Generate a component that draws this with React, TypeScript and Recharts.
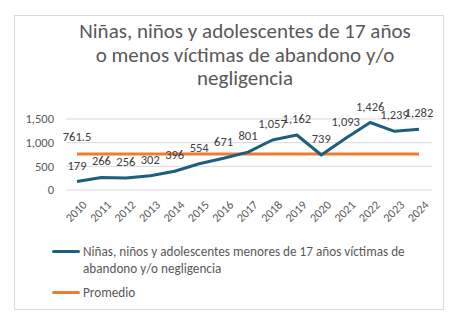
import { CartesianGrid, Line, LineChart, XAxis, YAxis } from 'recharts';

const years = ['2010', '2011', '2012', '2013', '2014', '2015', '2016', '2017', '2018', '2019', '2020', '2021', '2022', '2023', '2024'];
const victims = [179, 266, 256, 302, 396, 554, 671, 801, 1057, 1162, 739, 1093, 1426, 1239, 1282];
const average = [761.5, 761.5, 761.5, 761.5, 761.5, 761.5, 761.5, 761.5, 761.5, 761.5, 761.5, 761.5, 761.5, 761.5, 761.5];
const yTicks = [0, 500, 1000, 1500];

const seriesName = 'Niñas, niños y adolescentes menores de 17 años víctimas de abandono y/o negligencia';
const avgName = 'Promedio';

const data = years.map((year, i) => ({ year, victims: victims[i], average: average[i] }));

const FONT = 'Calibri, Carlito, "Noto Sans", sans-serif';
const BLUE = '#1F5F7E';
const ORANGE = '#ED7D31';

const fmt = (v: number) => (Number.isInteger(v) ? v.toLocaleString('en-US') : v.toString());

function YearTick({ x, y, payload }: any) {
  return (
    <g transform={`translate(${x + 5},${y + 2})`}>
      <text x={0} y={0} dy={8} textAnchor="end" transform="rotate(-45)" fill="#595959" fontSize={12} fontFamily={FONT}>
        {payload.value}
      </text>
    </g>
  );
}

function ValueLabel({ x, y, value }: any) {
  return (
    <text x={x} y={y - 12} textAnchor="middle" fill="#404040" fontSize={12.5} fontFamily={FONT}>
      {fmt(value)}
    </text>
  );
}

function AvgLabel({ x, y, value, index }: any) {
  if (index !== 0) return null;
  return (
    <text x={x} y={y - 13} textAnchor="middle" fill="#404040" fontSize={12.5} fontFamily={FONT}>
      {fmt(value)}
    </text>
  );
}

function LegendBox() {
  const row = { display: 'flex', alignItems: 'flex-start', fontSize: 13.2, color: '#595959', fontFamily: FONT, lineHeight: '17px' } as const;
  const swatch = (c: string) => ({ width: 28, height: 3, background: c, marginTop: 7, marginRight: 3, flex: 'none', borderRadius: 2 });
  return (
    <div style={{ position: 'absolute', left: 52, top: 243, width: 372 }}>
      <div style={row}>
        <div style={swatch(BLUE)} />
        <div>{seriesName}</div>
      </div>
      <div style={{ ...row, marginTop: 7 }}>
        <div style={swatch(ORANGE)} />
        <div>{avgName}</div>
      </div>
    </div>
  );
}

export default function App() {
  return (
    <div style={{ position: 'absolute', left: 0, top: 0, width: 460, height: 325, background: '#fff' }}>
      <div
        style={{
          position: 'absolute',
          left: 14,
          top: 15,
          width: 430,
          height: 295,
          border: '1px solid #D9D9D9',
          boxSizing: 'border-box',
        }}
      />
      <div
        style={{
          position: 'absolute',
          left: 45,
          top: 20,
          width: 400,
          textAlign: 'center',
          fontFamily: FONT,
          fontSize: 21,
          lineHeight: '23.5px',
          color: '#595959',
        }}
      >
        Niñas, niños y adolescentes de 17 años
        <br />o menos víctimas de abandono y/o
        <br />negligencia
      </div>
      <LineChart width={460} height={325} data={data} margin={{ top: 119, right: 28, bottom: 95, left: 16 }} style={{ position: 'absolute', left: 0, top: 0 }}>
        <CartesianGrid vertical={false} stroke="#D9D9D9" />
        <XAxis
          dataKey="year"
          axisLine={false}
          tickLine={false}
          interval={0}
          tick={<YearTick />}
          height={40}
          padding={{ left: 11, right: 13 }}
        />
        <YAxis
          domain={[0, 1500]}
          ticks={yTicks}
          axisLine={false}
          tickLine={false}
          width={50}
          tickFormatter={(v: number) => v.toLocaleString('en-US')}
          tick={{ fill: '#595959', fontSize: 12.5, fontFamily: FONT, dx: -4 }}
        />
        <Line
          dataKey="average"
          name={avgName}
          stroke={ORANGE}
          strokeWidth={3}
          dot={false}
          label={<AvgLabel />}
          isAnimationActive={false}
        />
        <Line
          type="linear"
          dataKey="victims"
          name={seriesName}
          stroke={BLUE}
          strokeWidth={3}
          strokeLinejoin="round"
          dot={false}
          label={<ValueLabel />}
          isAnimationActive={false}
        />
      </LineChart>
      <LegendBox />
    </div>
  );
}
